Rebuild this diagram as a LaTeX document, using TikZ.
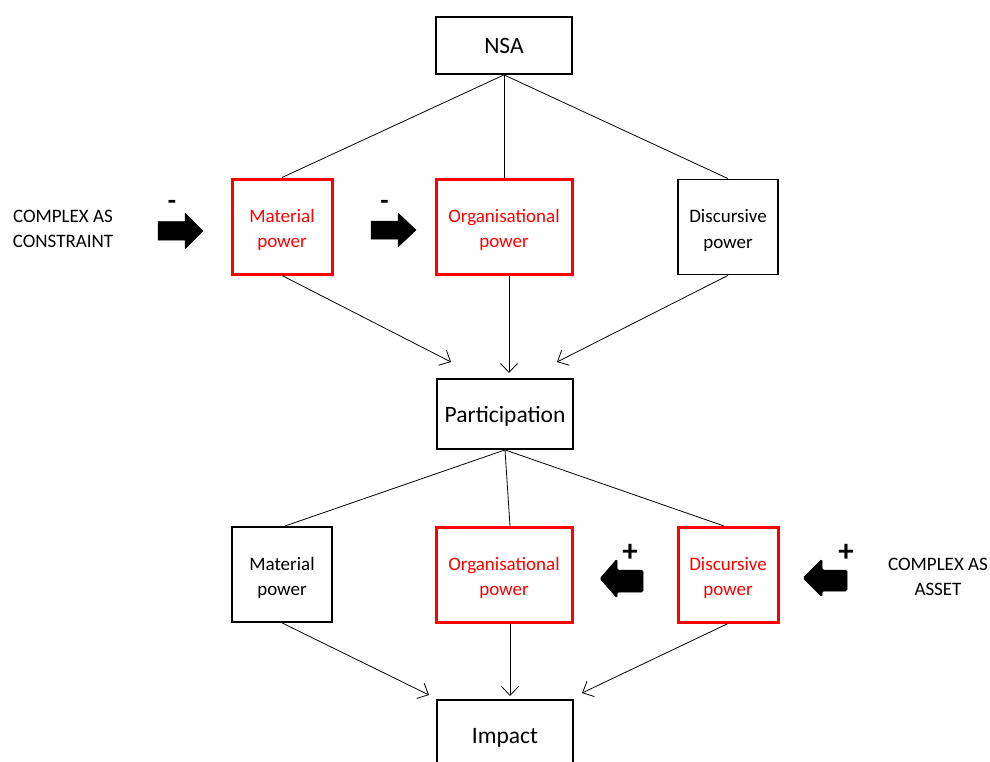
\documentclass[tikz,border=0pt]{standalone}
\usepackage{fontspec}
\setmainfont{Carlito}
\usetikzlibrary{arrows.meta}
\newcommand{\topstrut}{\rule{0pt}{20pt}}
\begin{document}
\begin{tikzpicture}[x=1pt,y=-1pt,
  box/.style={draw=black,line width=1.8pt,minimum width=100pt,minimum height=95pt,
    align=center,inner sep=0pt,
    font=\fontsize{19}{25.5}\selectfont},
  redbox/.style={box,draw=red,line width=3pt,text=red},
  bigbox/.style={draw=black,line width=1.8pt,minimum width=136pt,align=center,inner sep=0pt,
    font=\fontsize{23.5}{28}\selectfont},
  lab/.style={align=center,inner sep=0pt,font=\fontsize{19}{25}\selectfont},
  sign/.style={inner sep=0pt,font=\fontsize{27}{27}\selectfont\bfseries},
  conn/.style={line width=0.8pt},
  arr/.style={conn,-{Straight Barb[length=9pt,width=17pt,line width=0.8pt]}},
  blockarrow/.style={fill=black,draw=black,line width=0.5pt,line join=round}
]
\clip (0,0) rectangle (990,761);
\useasboundingbox (0,0) rectangle (990,761);

% top row
\node[bigbox,minimum height=57pt] (nsa) at (504,45.5) {NSA};
\node[redbox] (mat1) at (282,226.5) {\topstrut Material\\power};
\node[redbox,minimum width=136pt] (org1) at (504,226.5) {\topstrut Organisational\\power};
\node[box] (dis1) at (728,227) {\topstrut Discursive\\power};

\node[bigbox,minimum height=70pt,text height=20pt,text depth=4pt] (part) at (505,414) {Participation};

% bottom row
\node[box] (mat2) at (282,574.5) {\topstrut Material\\power};
\node[redbox,minimum width=136pt] (org2) at (504,574.5) {\topstrut Organisational\\power};
\node[redbox] (dis2) at (728,574.5) {\topstrut Discursive\\power};

\node[bigbox,minimum height=74pt,text height=17pt,text depth=5pt] (imp) at (505,737) {Impact};

% side labels
\node[lab] (constraint) at (63,228.5) {COMPLEX AS\\CONSTRAINT};
\node[lab] (asset) at (938,576.5) {COMPLEX AS\\ASSET};

% connectors NSA
\draw[conn] (nsa.south) -- (mat1.north);
\draw[conn] (nsa.south) -- (org1.north);
\draw[conn] (nsa.south) -- (dis1.north);

\coordinate (p1) at (451,362);
\coordinate (p2) at (509,373);
\coordinate (p3) at (557,362);
\draw[arr] (mat1.south) -- (p1);
\draw[arr] (org1.south -| p2) -- (p2);
\draw[arr] (dis1.south) -- (p3);

% connectors Participation
\coordinate (q1) at (285,526);
\coordinate (q2) at (510,526);
\coordinate (q3) at (724,526);
\draw[conn] (part.south) -- (q1);
\draw[conn] (part.south) -- (q2);
\draw[conn] (part.south) -- (q3);

\coordinate (r1) at (429,695);
\coordinate (r2) at (510,696);
\coordinate (r3) at (582,693);
\draw[arr] (mat2.south) -- (r1);
\draw[arr] (org2.south -| r2) -- (r2);
\draw[arr] (dis2.south) -- (r3);

% block arrows (minus, pointing right)
\fill[blockarrow] (158,221.5) -- (185,221.5) -- (185,213) -- (203,231) -- (185,249) -- (185,240) -- (158,240) -- cycle;
\fill[blockarrow] (371,221) -- (398,221) -- (398,213) -- (416,230) -- (398,247) -- (398,239) -- (371,239) -- cycle;
\node[sign] (m1) at (172,205) {-};
\node[sign] (m2) at (384.5,204.5) {-};

% block arrows (plus, pointing left)
\fill[blockarrow,rounded corners=1.5pt] (643,570) -- (617,570) -- (617,559) -- (600,578.5) -- (617,598) -- (617,592) -- (643,592) -- cycle;
\fill[blockarrow,rounded corners=1.5pt] (847,570) -- (822,570) -- (822,559) -- (803,578) -- (822,597) -- (822,591) -- (847,591) -- cycle;
\node[sign,font=\fontsize{31}{31}\selectfont\bfseries] (p1s) at (630,553) {+};
\node[sign,font=\fontsize{31}{31}\selectfont\bfseries] (p2s) at (846,553) {+};
\end{tikzpicture}
\end{document}
